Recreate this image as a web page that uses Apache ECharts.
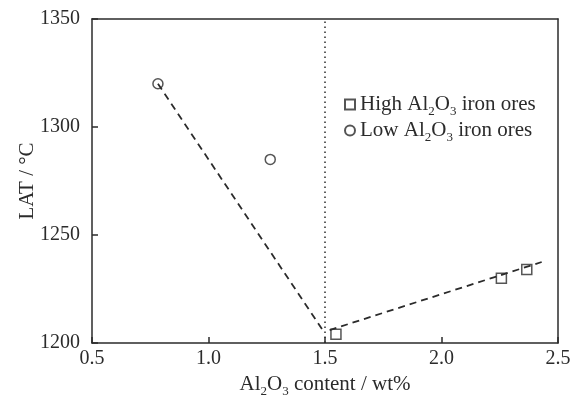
<!DOCTYPE html>
<html><head><meta charset="utf-8">
<script src="https://cdn.jsdelivr.net/npm/echarts@6/dist/echarts.min.js"></script>
<style>html,body{margin:0;padding:0;background:#fff}#c{width:574px;height:398px}</style>
</head><body><div id="c"></div>
<script>
// Data
var highAl = [[1.547, 1204], [2.257, 1230], [2.366, 1234]];
var lowAl = [[0.783, 1320], [1.265, 1285]];
var fitLow = [[0.783, 1320], [1.49, 1206]];
var fitHigh = [[1.52, 1206], [2.43, 1237.5]];
var boundaryX = 1.5;
var xTicks = [0.5, 1.0, 1.5, 2.0, 2.5];
var yTicks = [1200, 1250, 1300, 1350];

var FONT = '"Liberation Serif", "Times New Roman", serif';
var INK = '#2b2b2b';
var rich = {
  a: {fontFamily: FONT, fontSize: 21, color: INK, lineHeight: 21},
  s: {fontFamily: FONT, fontSize: 13, color: INK, lineHeight: 27, verticalAlign: 'bottom'}
};
var chart = echarts.init(document.getElementById('c'));
chart.setOption({
  animation: false,
  grid: {left: 92, right: 16, top: 19, bottom: 55, outerBoundsMode: 'none', containLabel: false},
  legend: {
    orient: 'vertical', left: 339, top: 89, itemWidth: 10, itemHeight: 10, itemGap: 2,
    data: ['High', 'Low'],
    formatter: function (n) {
      return n === 'High' ? '{a|High Al}{s|2}{a|O}{s|3}{a| iron ores}' : '{a|Low Al}{s|2}{a|O}{s|3}{a| iron ores}';
    },
    textStyle: {rich: rich, fontFamily: FONT, fontSize: 21, color: INK}
  },
  xAxis: [{
    type: 'value', min: 0.5, max: 2.5, interval: 0.5,
    name: '{a|Al}{s|2}{a|O}{s|3}{a| content / wt%}',
    nameLocation: 'middle', nameGap: 28, nameMoveOverlap: false,
    nameTextStyle: {rich: rich},
    axisLine: {lineStyle: {color: INK, width: 1.5}},
    axisTick: {inside: true, length: 6, lineStyle: {color: INK, width: 1.5}},
    axisLabel: {fontFamily: FONT, fontSize: 20, color: INK, margin: 6,
      formatter: function (v) { return v.toFixed(1); }},
    splitLine: {show: false}
  }, {
    type: 'value', position: 'top', min: 0.5, max: 2.5, interval: 0.5,
    axisLine: {show: true, lineStyle: {color: INK, width: 1.5}},
    axisTick: {show: false}, axisLabel: {show: false}, splitLine: {show: false}
  }],
  yAxis: [{
    type: 'value', min: 1200, max: 1350, interval: 50,
    name: 'LAT / °C', nameLocation: 'middle', nameGap: 54, nameMoveOverlap: false,
    nameTextStyle: {fontFamily: FONT, fontSize: 21, color: INK},
    axisLine: {show: true, lineStyle: {color: INK, width: 1.5}},
    axisTick: {inside: true, length: 6, lineStyle: {color: INK, width: 1.5}},
    axisLabel: {fontFamily: FONT, fontSize: 20, color: INK, margin: 12,
      formatter: function (v) { return String(v); }},
    splitLine: {show: false}
  }, {
    type: 'value', position: 'right', min: 1200, max: 1350, interval: 50,
    axisLine: {show: true, lineStyle: {color: INK, width: 1.5}},
    axisTick: {show: false}, axisLabel: {show: false}, splitLine: {show: false}
  }],
  series: [{
    type: 'line', data: fitLow, symbol: 'none', silent: true,
    lineStyle: {color: INK, width: 1.8, type: [7, 5]},
    markLine: {
      silent: true, symbol: 'none', label: {show: false},
      lineStyle: {color: INK, width: 1.5, type: [1.5, 3.5]},
      data: [{xAxis: boundaryX}]
    }
  }, {
    type: 'line', data: fitHigh, symbol: 'none', silent: true,
    lineStyle: {color: INK, width: 1.8, type: [7, 5]}
  }, {
    name: 'High', type: 'scatter', data: highAl, symbol: 'rect', symbolSize: 10,
    itemStyle: {color: '#fff', borderColor: INK, borderWidth: 1.5}
  }, {
    name: 'Low', type: 'scatter', data: lowAl, symbol: 'circle', symbolSize: 10,
    itemStyle: {color: '#fff', borderColor: INK, borderWidth: 1.5}
  }]
});
</script></body></html>
